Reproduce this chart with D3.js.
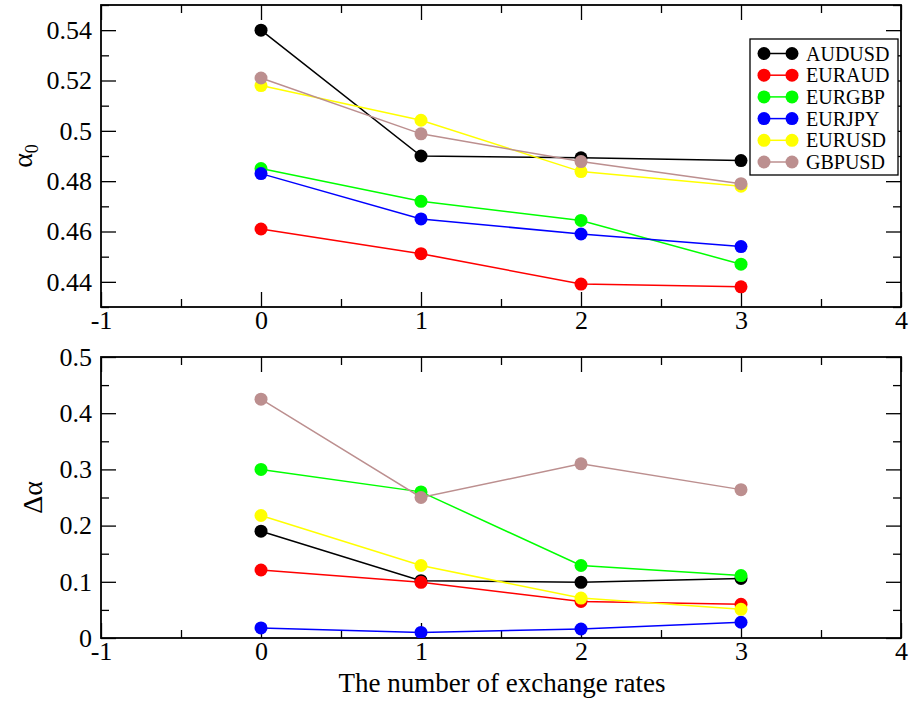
<!DOCTYPE html>
<html>
<head>
<meta charset="utf-8">
<script src="https://cdn.jsdelivr.net/npm/d3@7"></script>
<style>
  html, body { margin: 0; padding: 0; background: #fff; }
  svg { display: block; }
  svg text { font-family: "Liberation Serif", "Times New Roman", serif; fill: #000; }
</style>
</head>
<body>
<svg id="chart" width="910" height="701"></svg>
<script>
// Number of exchange rates used as conditioning variables
const rateCounts = [0, 1, 2, 3];

// Currency pairs and their colours
const pairs = ["AUDUSD", "EURAUD", "EURGBP", "EURJPY", "EURUSD", "GBPUSD"];
const pairColors = ["#000000", "#ff0000", "#00ff00", "#0000ff", "#ffff00", "#bc8f8f"];

// alpha_0 per pair (top panel)
const alpha0AUDUSD = [0.540, 0.490, 0.4893, 0.4882];
const alpha0EURAUD = [0.461, 0.4512, 0.4391, 0.438];
const alpha0EURGBP = [0.485, 0.472, 0.4644, 0.447];
const alpha0EURJPY = [0.483, 0.465, 0.4590, 0.454];
const alpha0EURUSD = [0.518, 0.5042, 0.4838, 0.478];
const alpha0GBPUSD = [0.521, 0.4988, 0.4878, 0.479];

// Delta alpha per pair (bottom panel)
const dAlphaAUDUSD = [0.190, 0.102, 0.099, 0.106];
const dAlphaEURAUD = [0.121, 0.099, 0.065, 0.060];
const dAlphaEURGBP = [0.300, 0.260, 0.129, 0.111];
const dAlphaEURJPY = [0.018, 0.010, 0.016, 0.028];
const dAlphaEURUSD = [0.218, 0.129, 0.071, 0.051];
const dAlphaGBPUSD = [0.425, 0.250, 0.310, 0.264];

// Axis ticks and their labels
const xTicks = [-1, 0, 1, 2, 3, 4];
const xTickLabels = ["-1", "0", "1", "2", "3", "4"];
const xMinorTicks = [-0.5, 0.5, 1.5, 2.5, 3.5];
const topYTicks = [0.44, 0.46, 0.48, 0.50, 0.52, 0.54];
const topYTickLabels = ["0.44", "0.46", "0.48", "0.5", "0.52", "0.54"];
const topYMinorTicks = [0.43, 0.45, 0.47, 0.49, 0.51, 0.53, 0.55];
const botYTicks = [0, 0.1, 0.2, 0.3, 0.4, 0.5];
const botYTickLabels = ["0", "0.1", "0.2", "0.3", "0.4", "0.5"];
const botYMinorTicks = [0.05, 0.15, 0.25, 0.35, 0.45];

const alpha0Series = [alpha0AUDUSD, alpha0EURAUD, alpha0EURGBP, alpha0EURJPY, alpha0EURUSD, alpha0GBPUSD];
const dAlphaSeries = [dAlphaAUDUSD, dAlphaEURAUD, dAlphaEURGBP, dAlphaEURJPY, dAlphaEURUSD, dAlphaGBPUSD];

const svg = d3.select("#chart");

const left = 101, right = 901;
const x = d3.scaleLinear().domain([-1, 4]).range([left, right]);

const majorLen = 15, minorLen = 8;
const labelFrom = (values, labels) => d => labels[values.indexOf(d)];

function drawPanel(top, bottom, yDomain, yTicks, yLabels, yMinor, series) {
  const y = d3.scaleLinear().domain(yDomain).range([bottom, top]);
  const g = svg.append("g");

  const clipId = "clip" + Math.round(top);
  svg.append("clipPath").attr("id", clipId)
    .append("rect").attr("x", left).attr("y", top).attr("width", right - left).attr("height", bottom - top);

  // Tick marks on all four sides, pointing inward
  const axBottom = d3.axisBottom(x).tickValues(xTicks).tickSizeInner(-majorLen).tickSizeOuter(0)
    .tickFormat(labelFrom(xTicks, xTickLabels)).tickPadding(4);
  const axTop = d3.axisTop(x).tickValues(xTicks).tickSizeInner(-majorLen).tickSizeOuter(0).tickFormat("");
  const axBottomMinor = d3.axisBottom(x).tickValues(xMinorTicks).tickSizeInner(-minorLen).tickSizeOuter(0).tickFormat("");
  const axTopMinor = d3.axisTop(x).tickValues(xMinorTicks).tickSizeInner(-minorLen).tickSizeOuter(0).tickFormat("");
  const axLeft = d3.axisLeft(y).tickValues(yTicks).tickSizeInner(-majorLen).tickSizeOuter(0)
    .tickFormat(labelFrom(yTicks, yLabels)).tickPadding(9);
  const axRight = d3.axisRight(y).tickValues(yTicks).tickSizeInner(-majorLen).tickSizeOuter(0).tickFormat("");
  const axLeftMinor = d3.axisLeft(y).tickValues(yMinor).tickSizeInner(-minorLen).tickSizeOuter(0).tickFormat("");
  const axRightMinor = d3.axisRight(y).tickValues(yMinor).tickSizeInner(-minorLen).tickSizeOuter(0).tickFormat("");

  const axes = [
    [axBottom, `translate(0,${bottom})`], [axTop, `translate(0,${top})`],
    [axBottomMinor, `translate(0,${bottom})`], [axTopMinor, `translate(0,${top})`],
    [axLeft, `translate(${left},0)`], [axRight, `translate(${right},0)`],
    [axLeftMinor, `translate(${left},0)`], [axRightMinor, `translate(${right},0)`]
  ];
  axes.forEach(([ax, tr]) => {
    const a = g.append("g").attr("transform", tr).call(ax);
    a.select(".domain").remove();
    a.selectAll(".tick line").attr("stroke", "#000").attr("stroke-width", 1.3);
    a.selectAll(".tick text")
      .style("font-family", "'Liberation Serif', 'Times New Roman', serif")
      .style("font-size", "26px").style("fill", "#000");
  });

  // Frame
  g.append("rect").attr("x", left).attr("y", top).attr("width", right - left).attr("height", bottom - top)
    .attr("fill", "none").attr("stroke", "#000").attr("stroke-width", 1.8);

  const line = d3.line().x((d, i) => x(rateCounts[i])).y(d => y(d));
  const data = g.append("g").attr("clip-path", `url(#${clipId})`);
  series.forEach((vals, k) => {
    const s = data.append("g");
    s.append("path").attr("d", line(vals)).attr("fill", "none")
      .attr("stroke", pairColors[k]).attr("stroke-width", 1.5);
    s.selectAll("circle").data(vals).join("circle")
      .attr("cx", (d, i) => x(rateCounts[i])).attr("cy", d => y(d)).attr("r", 6.5)
      .attr("fill", pairColors[k]);
  });
  return y;
}

drawPanel(5, 307, [0.43, 0.55], topYTicks, topYTickLabels, topYMinorTicks, alpha0Series);
drawPanel(357, 638, [0, 0.5], botYTicks, botYTickLabels, botYMinorTicks, dAlphaSeries);

// Axis titles
const t1 = svg.append("text").attr("transform", "translate(32,156) rotate(-90)")
  .attr("text-anchor", "middle").style("font-size", "28px");
t1.append("tspan").text("α");
t1.append("tspan").style("font-size", "18px").attr("dy", 6).text("0");

svg.append("text").attr("transform", "translate(42,497.5) rotate(-90)")
  .attr("text-anchor", "middle").style("font-size", "28px").text("Δα");

svg.append("text").attr("x", 502).attr("y", 692).attr("text-anchor", "middle")
  .style("font-size", "27px").text("The number of exchange rates");

// Legend
const lg = svg.append("g");
lg.append("rect").attr("x", 750).attr("y", 39).attr("width", 148).attr("height", 136)
  .attr("fill", "#fff").attr("stroke", "#000").attr("stroke-width", 1.3);
pairs.forEach((p, k) => {
  const yy = 53.5 + k * 21.7;
  lg.append("line").attr("x1", 764).attr("x2", 792).attr("y1", yy).attr("y2", yy)
    .attr("stroke", pairColors[k]).attr("stroke-width", 1.5);
  lg.append("circle").attr("cx", 764).attr("cy", yy).attr("r", 6.5).attr("fill", pairColors[k]);
  lg.append("circle").attr("cx", 792).attr("cy", yy).attr("r", 6.5).attr("fill", pairColors[k]);
  lg.append("text").attr("x", 806).attr("y", yy + 7).style("font-size", "20px").text(p);
});
</script>
</body>
</html>
